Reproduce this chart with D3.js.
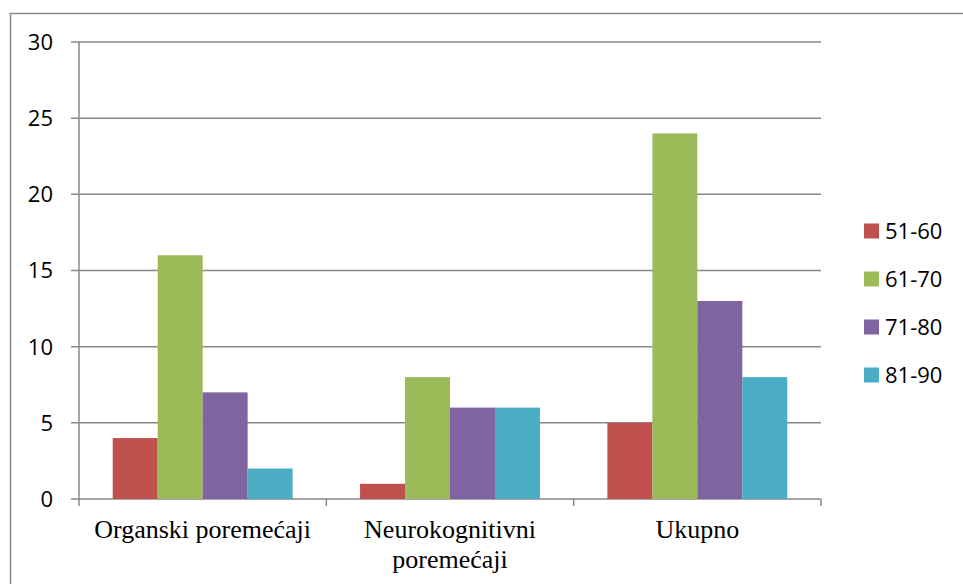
<!DOCTYPE html>
<html>
<head>
<meta charset="utf-8">
<script src="https://cdn.jsdelivr.net/npm/d3@7"></script>
<style>
  body { margin: 0; background: #fff; }
  svg { display: block; }
</style>
</head>
<body>
<svg id="root" width="963" height="584"></svg>
<script>
const categories = ['Organski poremećaji', 'Neurokognitivni\nporemećaji', 'Ukupno'];
const seriesNames = ['51-60', '61-70', '71-80', '81-90'];
const s5160 = [4, 1, 5];
const s6170 = [16, 8, 24];
const s7180 = [7, 6, 13];
const s8190 = [2, 6, 8];
const yTicks = [0, 5, 10, 15, 20, 25, 30];
const colors = ['#C0504D', '#9BBB59', '#8064A2', '#4BACC6'];

const seriesValues = [s5160, s6170, s7180, s8190];
const data = categories.map((c, i) => ({
    cat: c,
    values: seriesNames.map((s, j) => ({ key: s, value: seriesValues[j][i] }))
}));

const root = d3.select('#root');
const plotLeft = 79, plotRight = 821, plotTop = 42, plotBottom = 499;

// outer chart border
root.append('rect')
    .attr('x', 10.5).attr('y', 13.5)
    .attr('width', 1000).attr('height', 1000)
    .attr('fill', 'none').attr('stroke', '#898989').attr('stroke-width', 1.5);

const x0 = d3.scaleBand().domain(categories).range([plotLeft, plotRight]).paddingInner(0).paddingOuter(0);
const x1 = d3.scaleBand().domain(seriesNames).range([0, x0.bandwidth()]).paddingOuter(0.75).paddingInner(0);
const y = d3.scaleLinear().domain([0, 30]).range([plotBottom, plotTop]);

// gridlines
root.append('g')
    .selectAll('line')
    .data(yTicks)
    .enter()
    .append('line')
    .attr('x1', plotLeft - 8).attr('x2', plotRight)
    .attr('y1', d => y(d)).attr('y2', d => y(d))
    .attr('stroke', '#878787').attr('stroke-width', 1.5);

// y axis line
root.append('line')
    .attr('x1', plotLeft).attr('x2', plotLeft)
    .attr('y1', plotTop).attr('y2', plotBottom + 7)
    .attr('stroke', '#878787').attr('stroke-width', 1.5);

// category tick marks
root.append('g')
    .selectAll('line')
    .data(categories)
    .enter()
    .append('line')
    .attr('x1', d => x0(d) + x0.bandwidth()).attr('x2', d => x0(d) + x0.bandwidth())
    .attr('y1', plotBottom).attr('y2', plotBottom + 7)
    .attr('stroke', '#878787').attr('stroke-width', 1.5);

// y labels
root.append('g')
    .selectAll('text')
    .data(yTicks)
    .enter()
    .append('text')
    .attr('x', 53)
    .attr('y', d => y(d))
    .attr('dy', '0.36em')
    .attr('text-anchor', 'end')
    .attr('font-family', 'Open Sans, sans-serif')
    .attr('font-size', 22)
    .attr('fill', '#000')
    .text(d => d);

// bars
const groups = root.append('g')
    .selectAll('g')
    .data(data)
    .enter()
    .append('g')
    .attr('transform', d => `translate(${x0(d.cat)},0)`);

groups.selectAll('rect')
    .data(d => d.values)
    .enter()
    .append('rect')
    .attr('x', d => x1(d.key))
    .attr('width', x1.bandwidth())
    .attr('y', d => y(d.value))
    .attr('height', d => plotBottom - y(d.value))
    .attr('fill', (d, i) => colors[i]);

// category labels
const catLabels = root.append('g')
    .selectAll('text')
    .data(categories)
    .enter()
    .append('text')
    .attr('x', d => x0(d) + x0.bandwidth() / 2)
    .attr('y', 538)
    .attr('text-anchor', 'middle')
    .attr('font-family', 'Liberation Serif, Times New Roman, serif')
    .attr('font-size', 26)
    .attr('fill', '#000');

catLabels.selectAll('tspan')
    .data(d => d.split('\n').map(t => ({ t, x: x0(d) + x0.bandwidth() / 2 })))
    .enter()
    .append('tspan')
    .attr('x', d => d.x)
    .attr('dy', (d, i) => i === 0 ? 0 : 30)
    .text(d => d.t);

// legend
const legend = root.append('g')
    .selectAll('g')
    .data(seriesNames)
    .enter()
    .append('g')
    .attr('transform', (d, i) => `translate(864,${231 + i * 48})`);

legend.append('rect')
    .attr('x', 0).attr('y', -7.5)
    .attr('width', 15).attr('height', 15)
    .attr('fill', (d, i) => colors[i]);

legend.append('text')
    .attr('x', 21).attr('y', 0)
    .attr('dy', '0.36em')
    .attr('font-family', 'Open Sans, sans-serif')
    .attr('font-size', 22)
    .attr('fill', '#000')
    .text(d => d);
</script>
</body>
</html>
